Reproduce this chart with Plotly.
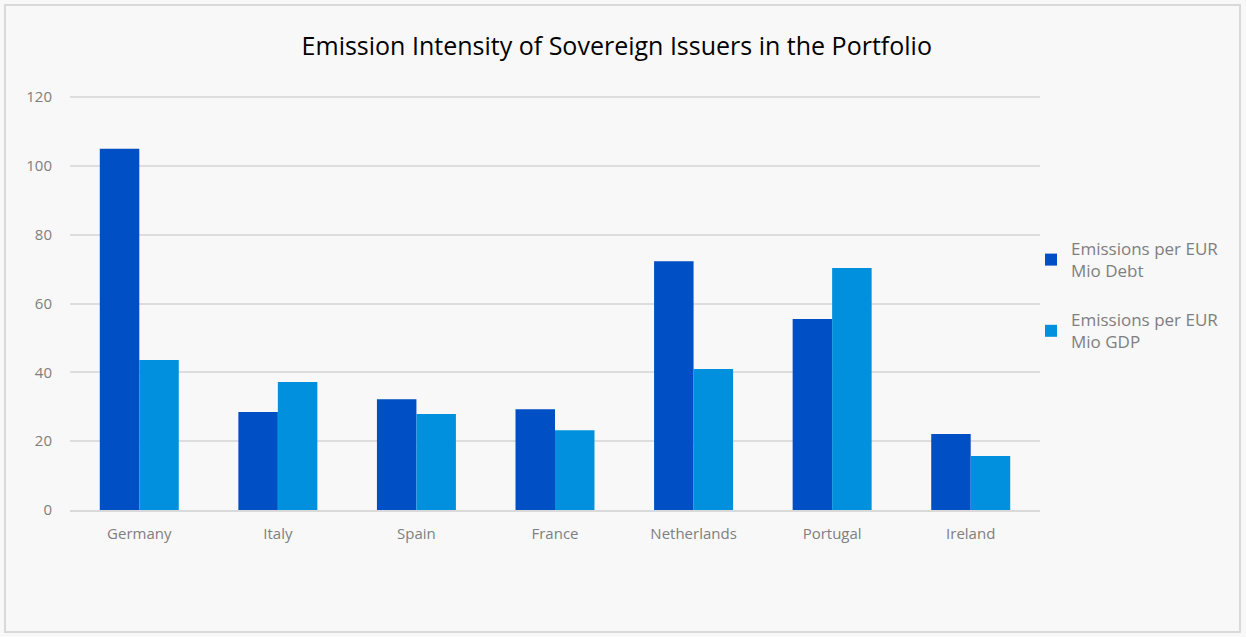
import plotly.graph_objects as go

countries = ["Germany", "Italy", "Spain", "France", "Netherlands", "Portugal", "Ireland"]
debt = [105.0, 28.5, 32.2, 29.3, 72.3, 55.5, 22.1]
gdp = [43.6, 37.2, 27.9, 23.2, 41.0, 70.3, 15.7]
series_names = ["Emissions per EUR<br>Mio Debt", "Emissions per EUR<br>Mio GDP"]
y_ticks = [0, 20, 40, 60, 80, 100, 120]
y_max = 120.6

W, H = 1246, 637
L, R, T, B = 70, 206, 95, 127
pw, ph = W - L - R, H - T - B

def px(x):
    return (x - L) / pw

def py(y):
    return (H - B - y) / ph

fig = go.Figure()
fig.add_trace(go.Bar(x=countries, y=debt, name=series_names[0], legendgroup="debt",
                     marker=dict(color="#004FC4", line=dict(width=0))))
fig.add_trace(go.Bar(x=countries, y=gdp, name=series_names[1], legendgroup="gdp",
                     marker=dict(color="#0090DE", line=dict(width=0))))

font_family = "Open Sans, Noto Sans, sans-serif"

fig.update_layout(
    width=W, height=H,
    margin=dict(l=L, r=R, t=T, b=B),
    paper_bgcolor="#F8F8F8",
    plot_bgcolor="#F8F8F8",
    barmode="group",
    bargap=0.43,
    bargroupgap=0,
    title=dict(text="Emission Intensity of Sovereign Issuers in the Portfolio",
               x=0.495, xref="container", xanchor="center",
               y=1 - 46 / H, yref="container", yanchor="middle",
               font=dict(family=font_family, size=25, color="#000000")),
    font=dict(family=font_family, color="#7F7F7F", size=15),
    showlegend=True,
    legend=dict(x=px(1031), y=py(231), xanchor="left", yanchor="top",
                bgcolor="rgba(0,0,0,0)",
                font=dict(size=17, color="#7F7F7F"),
                tracegroupgap=24, itemwidth=30),
    xaxis=dict(showgrid=False, showline=True, linecolor="#D9D9D9", linewidth=2,
               ticks="outside", ticklen=9, tickcolor="rgba(0,0,0,0)",
               tickfont=dict(size=15, color="#7F7F7F"), zeroline=False),
    yaxis=dict(range=[0, y_max], tickvals=y_ticks, showgrid=True,
               gridcolor="#DDDDDD", gridwidth=1.5, zeroline=False,
               showline=False, ticks="outside", ticklen=14,
               tickcolor="rgba(0,0,0,0)",
               tickfont=dict(size=15, color="#7F7F7F")),
)

fig.add_shape(type="rect", xref="paper", yref="paper",
              x0=px(5), x1=px(1240), y0=py(632), y1=py(5),
              line=dict(color="#D9D9D9", width=2), fillcolor="rgba(0,0,0,0)",
              layer="below")

fig.write_html("out.html", config={"displayModeBar": False},
               post_script="document.body.style.margin='0';document.body.style.overflow='hidden';")
